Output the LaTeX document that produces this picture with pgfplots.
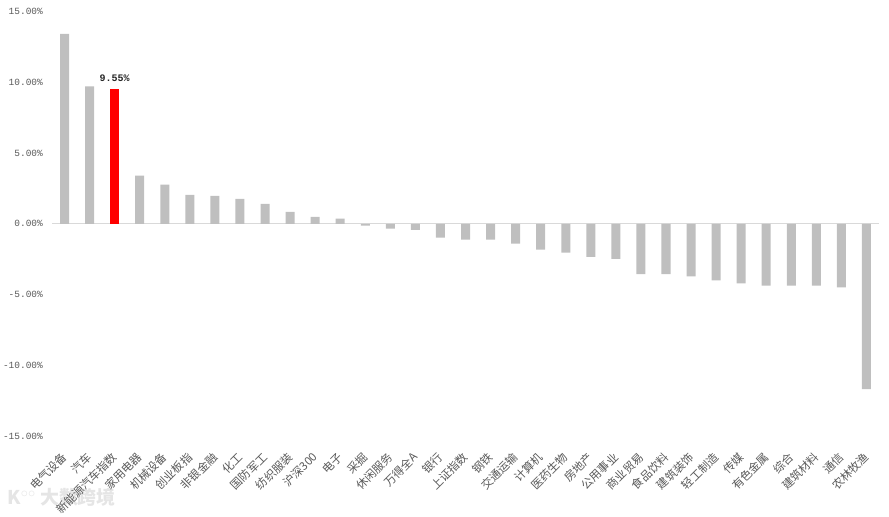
\documentclass[border=0pt]{standalone}
\usepackage{fontspec}
\usepackage{pgfplots}
\pgfplotsset{compat=1.18}
\newfontfamily\cjk{Noto Sans CJK SC}
\newfontfamily\mono{Liberation Mono}
\definecolor{bargray}{HTML}{BFBFBF}
\definecolor{barred}{HTML}{FF0000}
\definecolor{txtgray}{HTML}{595959}
\definecolor{linegray}{HTML}{D9D9D9}

\pgfplotstableread{
x y
0 13.43
1 9.72
3 3.41
4 2.77
5 2.04
6 1.97
7 1.76
8 1.42
9 0.85
10 0.50
11 0.36
12 -0.12
13 -0.33
14 -0.43
15 -0.97
16 -1.12
17 -1.12
18 -1.40
19 -1.83
20 -2.04
21 -2.33
22 -2.48
23 -3.55
24 -3.55
25 -3.72
26 -4.00
27 -4.21
28 -4.36
29 -4.36
30 -4.36
31 -4.50
32 -11.68
}\others

\begin{document}
\begin{tikzpicture}[x=1bp,y=1bp]
\useasboundingbox (0,0) rectangle (889,517);
\node[font=\cjk\bfseries\fontsize{19}{19}\selectfont, text=gray!20, anchor=west] at (4,20) {K$^{\circ\circ}$ 大数跨境};
\begin{axis}[
    at={(52bp,81bp)}, anchor=south west,
    width=827bp, height=424.3bp, scale only axis,
    xmin=-0.5, xmax=32.5,
    ymin=-15, ymax=15,
    axis line style={draw=none},
    major tick length=0pt,
    ytick={-15,-10,-5,0,5,10,15},
    yticklabels={-15.00\%,-10.00\%,-5.00\%,0.00\%,5.00\%,10.00\%,15.00\%},
    yticklabel style={font=\mono\fontsize{9.5}{10}\selectfont, text=txtgray, anchor=east, inner sep=0pt, xshift=-9bp},
    xtick={0,...,32},
    xticklabels={电气设备,汽车,新能源汽车指数,家用电器,机械设备,创业板指,非银金融,化工,国防军工,纺织服装,沪深300,电子,采掘,休闲服务,万得全A,银行,上证指数,钢铁,交通运输,计算机,医药生物,房地产,公用事业,商业贸易,食品饮料,建筑装饰,轻工制造,传媒,有色金属,综合,建筑材料,通信,农林牧渔},
    xticklabel style={font=\cjk\fontsize{11.5}{12}\selectfont, text=txtgray, rotate=45, anchor=north east, inner sep=0pt, yshift=-8bp, xshift=-13bp},
    ybar, bar width=9bp, bar shift=0pt,
    clip=false,
]
\draw[linegray, line width=1bp] (axis cs:-0.5,0) -- (axis cs:32.5,0);
\addplot[fill=bargray, draw=none] table[x=x,y=y] {\others};
\addplot[fill=barred, draw=none,
    nodes near coords={\mono\bfseries 9.55\%},
    nodes near coords style={font=\fontsize{10}{10}\selectfont, text=black!85, inner sep=7bp}]
    coordinates {(2,9.55)};
\end{axis}
\end{tikzpicture}
\end{document}
